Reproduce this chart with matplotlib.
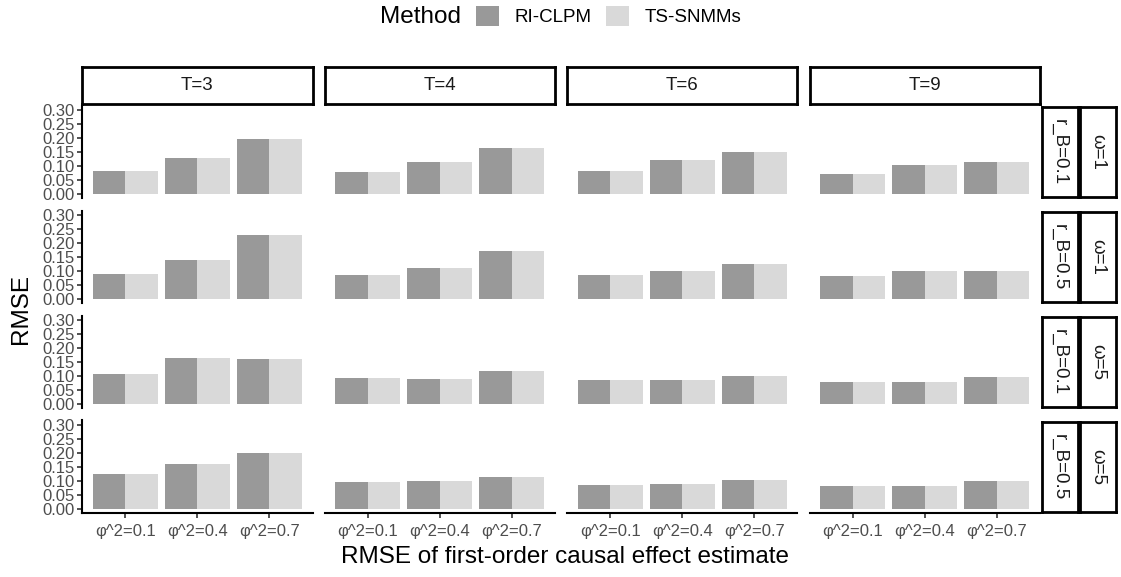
import matplotlib.pyplot as plt
from matplotlib.patches import Patch

plt.rcParams['font.family'] = ['Liberation Sans', 'DejaVu Sans']

# facet labels
t_labels = ["T=3", "T=4", "T=6", "T=9"]
rb_labels = ["r_B=0.1", "r_B=0.5", "r_B=0.1", "r_B=0.5"]
omega_labels = ["ω=1", "ω=1", "ω=5", "ω=5"]
phi_labels = ["φ^2=0.1", "φ^2=0.4", "φ^2=0.7"]
methods = ["RI-CLPM", "TS-SNMMs"]
method_colors = ["#999999", "#D9D9D9"]

# RMSE by facet row (ω, r_B), then T, then φ^2
ri_clpm = [
    [[0.083, 0.130, 0.198], [0.080, 0.114, 0.163], [0.082, 0.121, 0.151], [0.071, 0.102, 0.113]],
    [[0.087, 0.137, 0.228], [0.084, 0.110, 0.171], [0.083, 0.099, 0.124], [0.080, 0.099, 0.099]],
    [[0.107, 0.163, 0.159], [0.091, 0.087, 0.118], [0.083, 0.083, 0.098], [0.076, 0.079, 0.094]],
    [[0.123, 0.160, 0.198], [0.095, 0.099, 0.114], [0.083, 0.087, 0.101], [0.080, 0.080, 0.098]],
]
ts_snmms = [
    [[0.083, 0.130, 0.198], [0.080, 0.114, 0.163], [0.082, 0.121, 0.151], [0.071, 0.102, 0.113]],
    [[0.087, 0.137, 0.228], [0.084, 0.110, 0.171], [0.083, 0.099, 0.124], [0.080, 0.099, 0.099]],
    [[0.107, 0.163, 0.159], [0.091, 0.087, 0.118], [0.083, 0.083, 0.098], [0.076, 0.079, 0.094]],
    [[0.123, 0.160, 0.198], [0.095, 0.099, 0.114], [0.083, 0.087, 0.101], [0.080, 0.080, 0.098]],
]
y_ticks = [0.00, 0.05, 0.10, 0.15, 0.20, 0.25, 0.30]

W, H = 1121, 577


def box(x0, y0, x1, y1):
    # pixel box (top-left origin) -> figure fraction rect
    return [x0 / W, 1 - y1 / H, (x1 - x0) / W, (y1 - y0) / H]


def strip(x0, y0, x1, y1, label, rot=0):
    ax = fig.add_axes(box(x0, y0, x1, y1))
    ax.set_xticks([])
    ax.set_yticks([])
    for s in ax.spines.values():
        s.set_linewidth(2)
        s.set_color("black")
    ax.text(0.5, 0.5, label, rotation=rot, ha="center", va="center",
            fontsize=13.5, color="#1A1A1A", transform=ax.transAxes)


fig = plt.figure(figsize=(W / 100, H / 100), dpi=100)

col_left = [82, 324.5, 567, 809.5]
col_w = 230.5
row_top = [105.8, 210.5, 315.5, 420.5]
row_h = 92.4
grey_text = "#4D4D4D"

for r in range(4):
    for c in range(4):
        x0, y0 = col_left[c], row_top[r]
        ax = fig.add_axes(box(x0, y0, x0 + col_w, y0 + row_h))
        xs = [1, 2, 3]
        ax.bar([x - 0.225 for x in xs], ri_clpm[r][c], width=0.45,
               color=method_colors[0], linewidth=0)
        ax.bar([x + 0.225 for x in xs], ts_snmms[r][c], width=0.45,
               color=method_colors[1], linewidth=0)
        ax.set_xlim(0.4, 3.6)
        ax.set_ylim(-0.015, 0.315)
        for s in ax.spines.values():
            s.set_visible(False)
        if c == 0:
            ax.spines["left"].set_visible(True)
            ax.spines["left"].set_linewidth(1.5)
            ax.set_yticks(y_ticks)
            ax.set_yticklabels([f"{v:.2f}" for v in y_ticks])
            ax.tick_params(axis="y", length=3.5, width=1.2, color="#333333",
                           labelsize=12, labelcolor=grey_text, pad=1.5)
        else:
            ax.set_yticks([])
        if r == 3:
            ax.spines["bottom"].set_visible(True)
            ax.spines["bottom"].set_linewidth(1.5)
            ax.set_xticks(xs)
            ax.set_xticklabels(phi_labels)
            ax.tick_params(axis="x", length=3.5, width=1.2, color="#333333",
                           labelsize=12, labelcolor=grey_text, pad=4.5)
        else:
            ax.set_xticks([])

# column strips
for c in range(4):
    strip(col_left[c], 67, col_left[c] + col_w, 104, t_labels[c])

# row strips
for r in range(4):
    y0, y1 = row_top[r] + 1, row_top[r] + row_h - 1
    strip(1041.5, y0, 1077.5, y1, rb_labels[r], rot=-90)
    strip(1079.5, y0, 1116, y1, omega_labels[r], rot=-90)

# axis titles
fig.text(21 / W, 1 - 309 / H, "RMSE", rotation=90, ha="center", va="center",
         fontsize=17.5)
fig.text(565 / W, 1 - 557 / H, "RMSE of first-order causal effect estimate",
         ha="center", va="center", fontsize=17.5)

# legend
fig.text(380 / W, 1 - 17 / H, "Method", ha="left", va="center", fontsize=17.5)
handles = [Patch(facecolor=method_colors[i], edgecolor="none") for i in range(2)]
fig.legend(handles, methods, ncol=2, loc="center left",
           bbox_to_anchor=(476 / W, 1 - 16 / H), frameon=False, fontsize=13.5,
           handlelength=1.2, handleheight=1.25, handletextpad=0.85,
           columnspacing=0.8, borderpad=0, borderaxespad=0)

fig.savefig("out.png", dpi=100)
